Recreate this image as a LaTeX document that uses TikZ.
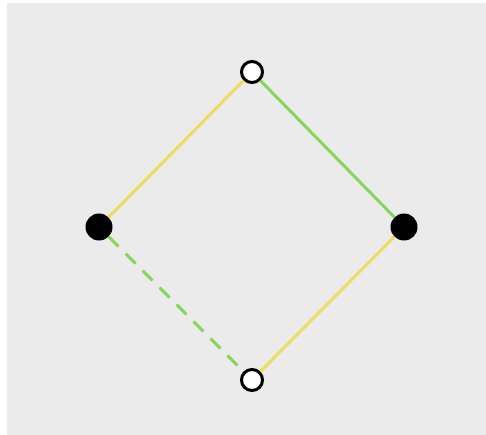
\documentclass[tikz,border=0pt]{standalone}
\definecolor{bggray}{HTML}{EBEBEB}
\definecolor{edgeyellow}{HTML}{F0DB5C}
\definecolor{edgegreen}{HTML}{85D75B}
\begin{document}
\begin{tikzpicture}[x=1pt,y=-1pt,
  opennode/.style={circle,draw=black,fill=white,line width=3pt,minimum size=21pt,inner sep=0pt},
  solidnode/.style={circle,fill=black,minimum size=27pt,inner sep=0pt},
  yedge/.style={draw=edgeyellow,line width=3pt},
  gedge/.style={draw=edgegreen,line width=3pt},
  gdash/.style={draw=edgegreen,line width=3pt,dash pattern=on 14pt off 10pt}]
\useasboundingbox (0,0) rectangle (486,435);
\fill[bggray] (7,3) rectangle (486,435);
\node[opennode] (t) at (252,72) {};
\node[solidnode] (l) at (99,227) {};
\node[solidnode] (r) at (404,227) {};
\node[opennode] (b) at (252,380) {};
\path[yedge] (t) -- (l);
\path[gedge] (t) -- (r);
\path[yedge] (r) -- (b);
\path[gdash] (l) -- (b);
\end{tikzpicture}
\end{document}
